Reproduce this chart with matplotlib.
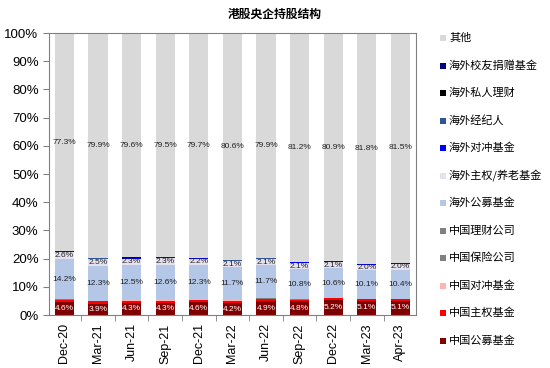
import matplotlib.pyplot as plt
from matplotlib.patches import Rectangle
from matplotlib.ticker import MultipleLocator, FixedLocator, PercentFormatter
import numpy as np

plt.rcParams['font.family'] = ['Liberation Sans', 'Noto Sans CJK SC', 'DejaVu Sans']

dates = ['Dec-20', 'Mar-21', 'Jun-21', 'Sep-21', 'Dec-21', 'Mar-22',
         'Jun-22', 'Sep-22', 'Dec-22', 'Mar-23', 'Apr-23']

# shares in %, bottom of stack first
cn_mutual = [4.6, 3.9, 4.3, 4.3, 4.6, 4.2, 4.9, 4.8, 5.2, 5.1, 5.1]
cn_sovereign = [0.8, 0.9, 0.8, 0.8, 0.7, 0.9, 0.9, 0.6, 0.7, 0.5, 0.5]
cn_hedge = [0.05] * 11
cn_insurance = [0.05] * 11
cn_wealth = [0.02] * 11
os_mutual = [14.2, 12.3, 12.5, 12.6, 12.3, 11.7, 11.7, 10.8, 10.6, 10.1, 10.4]
os_sovereign = [2.6, 2.5, 2.3, 2.3, 2.2, 2.1, 2.1, 2.1, 2.1, 2.0, 2.0]
os_hedge = [0.3] * 11
os_broker = [0.05] * 11
os_private = [0.02] * 11
os_endow = [0.02] * 11
other = [77.3, 79.9, 79.6, 79.5, 79.7, 80.6, 79.9, 81.2, 80.9, 81.8, 81.5]

series = [
    ('中国公募基金', cn_mutual, '#7F0000', 'white'),
    ('中国主权基金', cn_sovereign, '#FF0000', None),
    ('中国对冲基金', cn_hedge, '#FFB3B3', None),
    ('中国保险公司', cn_insurance, '#808080', None),
    ('中国理财公司', cn_wealth, '#808080', None),
    ('海外公募基金', os_mutual, '#B4C7E7', '#222222'),
    ('海外主权/养老基金', os_sovereign, '#E6E1EE', '#222222'),
    ('海外对冲基金', os_hedge, '#0000FF', None),
    ('海外经纪人', os_broker, '#2F5597', None),
    ('海外私人理财', os_private, '#000000', None),
    ('海外校友捐赠基金', os_endow, '#000080', None),
    ('其他', other, '#D9D9D9', '#222222'),
]

fig = plt.figure(figsize=(5.5, 3.68), dpi=100)
ax = fig.add_axes([0.089, 0.144, 0.667, 0.766])

x = np.arange(len(dates))
bottom = np.zeros(len(dates))
for name, vals, color, tcolor in series:
    vals = np.array(vals)
    ax.bar(x, vals, 0.57, bottom=bottom, color=color, linewidth=0)
    if tcolor is not None:
        for xi, b, v in zip(x, bottom, vals):
            ax.text(xi, b + v / 2, f'{v:.1f}%', ha='center', va='center',
                    fontsize=6, color=tcolor)
    bottom += vals

ax.set_xlim(-0.46, len(dates) - 0.54)
ax.set_ylim(0, 100)
ax.yaxis.set_major_locator(MultipleLocator(10))
ax.yaxis.set_major_formatter(PercentFormatter(decimals=0))
ax.set_xticks(x)
ax.set_xticklabels(dates, rotation=90, fontsize=9)
ax.tick_params(axis='x', length=0, pad=6)
ax.xaxis.set_minor_locator(FixedLocator(np.arange(len(dates) + 1) - 0.5))
ax.tick_params(axis='x', which='minor', length=4, direction='out', color='#808080')
ax.tick_params(axis='y', labelsize=9.5, length=4, direction='out', color='#808080')
for s in ax.spines.values():
    s.set_color('#808080')
    s.set_linewidth(0.8)

fig.text(0.5, 1 - 14 / 368, '港股央企持股结构', ha='center', va='center',
         fontsize=8.5, fontweight='bold', family=['Noto Sans CJK SC'])

# legend, top to bottom
for i, (name, vals, color, tcolor) in enumerate(reversed(series)):
    yc = 1 - (38 + i * 27.5) / 368
    fig.patches.append(Rectangle((440 / 550, yc - 3 / 368), 6 / 550, 6 / 368,
                                 transform=fig.transFigure, color=color, lw=0))
    fig.text(449 / 550, yc, name, ha='left', va='center', fontsize=8,
             family=['Noto Sans CJK SC'])

fig.savefig('out.png', dpi=100)
